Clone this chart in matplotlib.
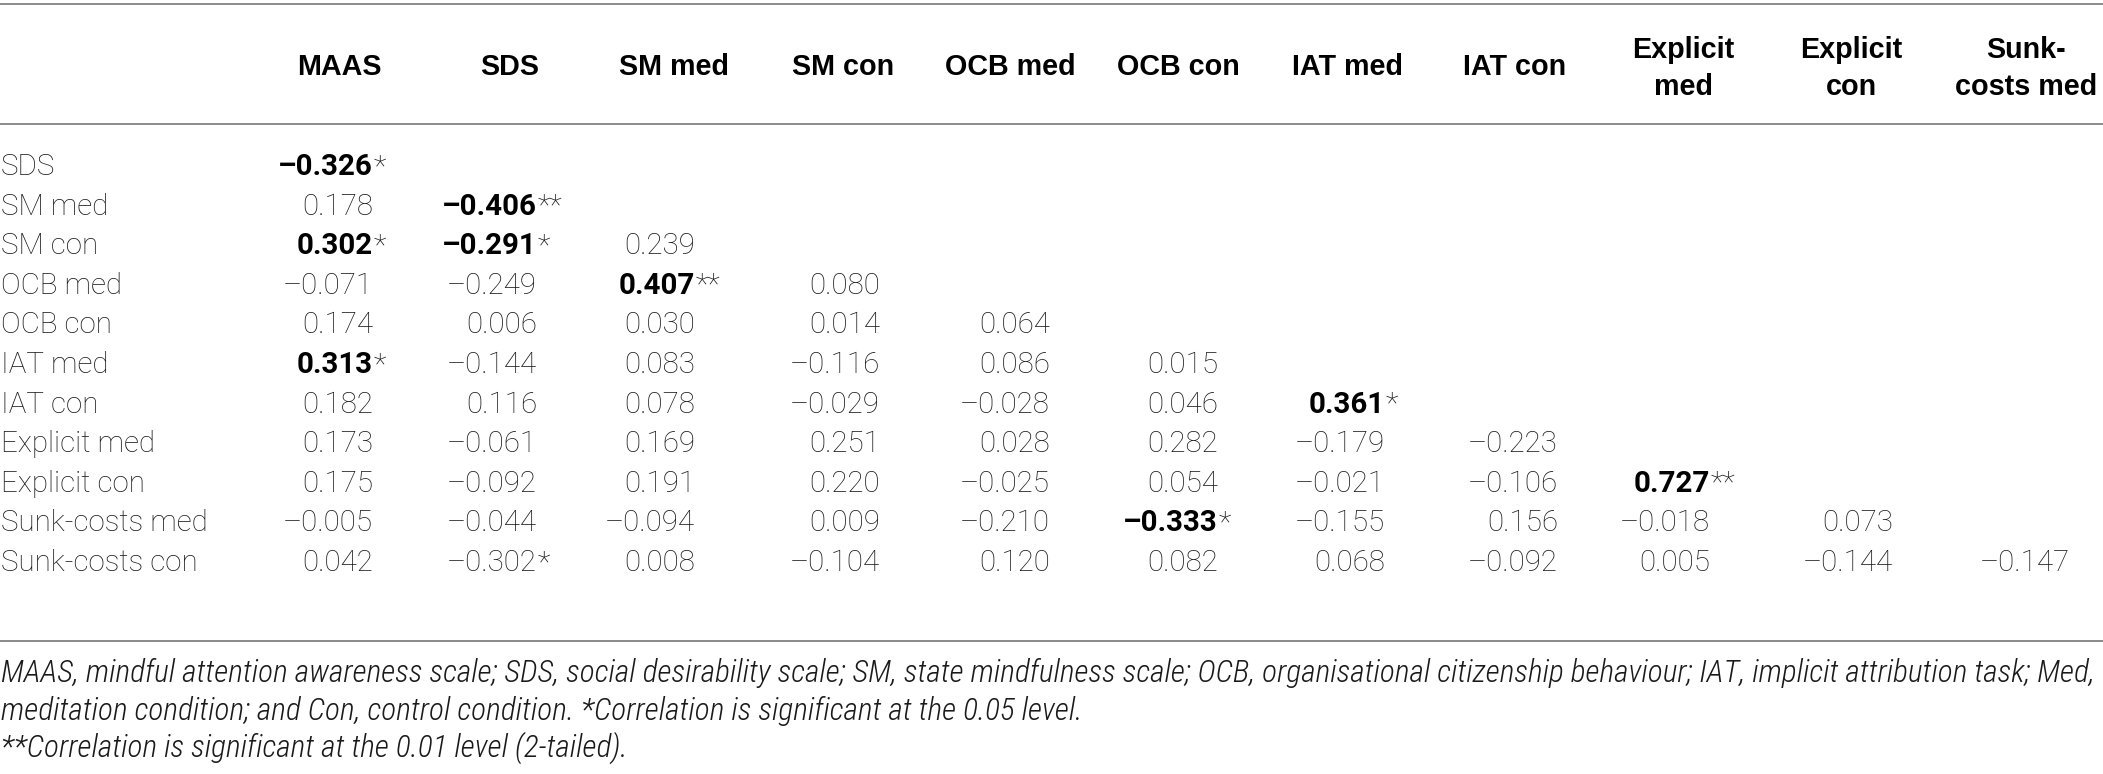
import matplotlib
matplotlib.use("Agg")
import matplotlib.pyplot as plt

# ---- table content ----
col_labels = ["MAAS", "SDS", "SM med", "SM con", "OCB med", "OCB con", "IAT med",
              "IAT con", "Explicit\nmed", "Explicit\ncon", "Sunk-\ncosts med"]
row_labels = ["SDS", "SM med", "SM con", "OCB med", "OCB con", "IAT med", "IAT con",
              "Explicit med", "Explicit con", "Sunk-costs med", "Sunk-costs con"]

values = [
    [-0.326],
    [0.178, -0.406],
    [0.302, -0.291, 0.239],
    [-0.071, -0.249, 0.407, 0.080],
    [0.174, 0.006, 0.030, 0.014, 0.064],
    [0.313, -0.144, 0.083, -0.116, 0.086, 0.015],
    [0.182, 0.116, 0.078, -0.029, -0.028, 0.046, 0.361],
    [0.173, -0.061, 0.169, 0.251, 0.028, 0.282, -0.179, -0.223],
    [0.175, -0.092, 0.191, 0.220, -0.025, 0.054, -0.021, -0.106, 0.727],
    [-0.005, -0.044, -0.094, 0.009, -0.210, -0.333, -0.155, 0.156, -0.018, 0.073],
    [0.042, -0.302, 0.008, -0.104, 0.120, 0.082, 0.068, -0.092, 0.005, -0.144, -0.147],
]
stars = [
    ["*"],
    ["", "**"],
    ["*", "*", ""],
    ["", "", "**", ""],
    ["", "", "", "", ""],
    ["*", "", "", "", "", ""],
    ["", "", "", "", "", "", "*"],
    ["", "", "", "", "", "", "", ""],
    ["", "", "", "", "", "", "", "", "**"],
    ["", "", "", "", "", "*", "", "", "", ""],
    ["", "*", "", "", "", "", "", "", "", "", ""],
]
bold_cells = [(0, 0), (1, 1), (2, 0), (2, 1), (3, 2), (5, 0), (6, 6), (8, 8), (9, 5)]

footnote = [
    "MAAS, mindful attention awareness scale; SDS, social desirability scale; SM, state mindfulness scale; "
    "OCB, organisational citizenship behaviour; IAT, implicit attribution task; Med,",
    "meditation condition; and Con, control condition. *Correlation is significant at the 0.05 level.",
    "**Correlation is significant at the 0.01 level (2-tailed).",
]

# ---- layout (pixels) ----
W, H = 2103, 774
col_right = [373, 537, 695, 880, 1050, 1218, 1385, 1558, 1710, 1893, 2070]
col_center = [339, 510, 674, 843, 1010, 1178, 1347, 1515, 1683, 1851, 2026]
row_base0, row_step = 175, 39.6
rule_y = [4, 124, 641]
foot_base = [682, 720, 757]
head_gap = 40  # baseline distance in two-line headers

BODY = ["Roboto", "Lato", "Liberation Sans", "DejaVu Sans"]
HEAD = ["Liberation Sans", "Arial", "DejaVu Sans"]
COND = ["Roboto Condensed", "Liberation Sans Narrow", "Arial Narrow", "Liberation Sans", "DejaVu Sans"]

fig = plt.figure(figsize=(W / 100, H / 100), dpi=100)
ax = fig.add_axes([0, 0, 1, 1])
ax.set_xlim(0, W)
ax.set_ylim(H, 0)
ax.axis("off")
renderer = fig.canvas.get_renderer()


def measure(text, **kw):
    t = ax.text(0, 0, text, **kw)
    bb = t.get_window_extent(renderer)
    t.remove()
    return bb


def fit_size(text, target_w, **kw):
    w = measure(text, fontsize=20, **kw).width
    return 20 * target_w / w


body_fs = fit_size("Sunk-costs med", 207, family=BODY, weight="light")
head_fs = fit_size("OCB med", 131, family=HEAD, weight="bold")
foot_fs = fit_size(footnote[0], 2092, family=COND, weight="light", style="italic")

# line spacing for stacked header labels
hkw = dict(fontsize=head_fs, family=HEAD, weight="bold")
one = measure("Ag", linespacing=1.0, **hkw).height
two = measure("Ag\nAg", linespacing=1.0, **hkw).height
head_ls = head_gap / (two - one)

dark = "#1a1a1a"

for y in rule_y:
    ax.plot([0, W], [y, y], color="#8a8a8a", lw=1.4, solid_capstyle="butt")

# baseline of the last header line
for lab, xc in zip(col_labels, col_center):
    yb = 55 + head_gap if "\n" in lab else 75
    ax.text(xc, yb, lab, ha="center", va="baseline", multialignment="center",
            linespacing=head_ls, color="black", **hkw)

for i, lab in enumerate(row_labels):
    yb = row_base0 + row_step * i
    ax.text(1, yb, lab, ha="left", va="baseline", fontsize=body_fs,
            family=BODY, weight="light", color=dark)
    for j, v in enumerate(values[i]):
        s = ("\u2013" if v < 0 else "") + f"{abs(v):.3f}"
        is_bold = (i, j) in bold_cells
        ax.text(col_right[j], yb, s, ha="right", va="baseline", fontsize=body_fs,
                family=BODY, weight="bold" if is_bold else "light",
                color="black" if is_bold else dark)
        if stars[i][j]:
            ax.text(col_right[j] + 1, yb, stars[i][j], ha="left", va="baseline",
                    fontsize=body_fs, family=BODY, weight="light", color=dark)

for line, yb in zip(footnote, foot_base):
    ax.text(1, yb, line, ha="left", va="baseline", fontsize=foot_fs,
            family=COND, weight="light", style="italic", color=dark)

fig.savefig("out.png", dpi=100)
